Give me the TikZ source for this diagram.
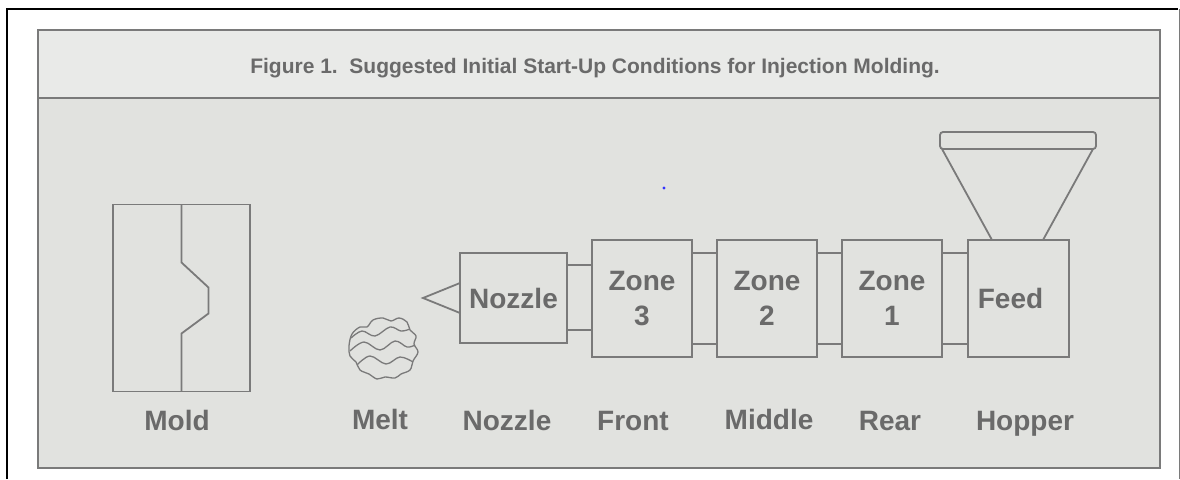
\documentclass[tikz,border=0pt]{standalone}
\usepackage{fontspec}
\setmainfont{Liberation Sans}
\usetikzlibrary{calc}
\definecolor{inkgray}{HTML}{6A6A6A}
\definecolor{edgegray}{HTML}{7A7A7A}
\definecolor{bandfill}{HTML}{E9EAE8}
\definecolor{bodyfill}{HTML}{E1E2DF}
\begin{document}
\begin{tikzpicture}[x=1pt,y=-1pt,
  edge/.style={draw=edgegray,line width=1.8pt},
  unitbox/.style={edge,rectangle,outer sep=0pt,inner sep=0pt,
    minimum width=100pt,minimum height=117pt,align=center,
    text=inkgray,font=\fontsize{28}{35}\selectfont\bfseries},
  caption/.style={anchor=base,text=inkgray,inner sep=0pt,
    font=\fontsize{28}{30}\selectfont\bfseries},
  link/.style={edge,line width=1.6pt},
  blob/.style={draw=edgegray,line width=1.3pt,line join=round}]
\useasboundingbox (0,0) rectangle (1180,479);
\fill[white] (0,0) rectangle (1180,479);

% page frame
\draw[black,line width=2.6pt] (7,479) -- (7,9) -- (1178,9);
\draw[edgegray,line width=1pt] (1179,9) -- (1179,479);

% panel with title band
\filldraw[edge,fill=bodyfill] (38,98) rectangle (1160,468);
\filldraw[edge,fill=bandfill] (38,30) rectangle (1160,98);
\node[anchor=base,text=inkgray,inner sep=0pt,font=\fontsize{21}{24}\selectfont\bfseries] (title) at (595,73)
  {Figure 1.\ \ Suggested Initial Start-Up Conditions for Injection Molding.};

% mold with parting line
\node[edge,rectangle,outer sep=0pt,minimum width=137pt,minimum height=187pt] (mold) at (181.5,298) {};
\draw[edge] (mold.north) -- ++(0,58) -- ++(27,25) -- ++(0,26) -- ++(-27,20) -- (mold.south);

% melt: lumpy pellet with folds
\draw[blob] plot[smooth cycle,tension=0.6] coordinates {(349,346) (352,334) (360,327) (367,327) (373,320) (383,318) (391,321) (399,318) (407,322) (410,330) (416,336) (414,344) (418,352) (413,361) (410,370) (401,374) (395,378) (385,377) (377,379) (369,374) (360,370) (356,362) (350,356)};
\draw[blob] plot[smooth,tension=0.6] coordinates {(351,338) (362,331) (375,336) (390,327) (401,331) (410,329)};
\draw[blob] plot[smooth,tension=0.6] coordinates {(350,351) (364,342) (380,350) (395,341) (407,347) (415,345)};
\draw[blob] plot[smooth,tension=0.6] coordinates {(357,365) (370,356) (386,364) (400,357) (413,362)};

% barrel
\node[unitbox,minimum width=107pt,minimum height=90pt] (nz) at (513.5,298) {Nozzle};
\node[unitbox] (z3) at (642,298.5) {Zone\\3};
\node[unitbox] (z2) at (767,298.5) {Zone\\2};
\node[unitbox] (z1) at (892,298.5) {Zone\\1};
\node[unitbox,minimum width=101pt] (feed) at (1018.5,298.5) {\raisebox{-5pt}{Feed}\hspace{16pt}};

% nozzle tip
\coordinate (tip) at (423,298);
\draw[edge,line join=miter] ($(nz.west)+(0,-15)$) -- (tip) -- ($(nz.west)+(0,15)$);

% couplings between sections
\draw[link] ($(nz.north east)+(0,12)$) -- ($(z3.north west)+(0,25)$);
\draw[link] ($(nz.south east)+(0,-13)$) -- ($(z3.south west)+(0,-27)$);
\foreach \a/\b in {z3/z2,z2/z1,z1/feed}{
  \draw[link] ($(\a.north east)+(0,13)$) -- ($(\b.north west)+(0,13)$);
  \draw[link] ($(\a.south east)+(0,-13)$) -- ($(\b.south west)+(0,-13)$);
}

% hopper
\node[edge,rectangle,rounded corners=3pt,outer sep=0pt,minimum width=156pt,minimum height=17pt] (rim) at (1018,140.5) {};
\draw[edge] ($(rim.south west)+(2,0)$) -- ($(feed.north west)+(24,0)$);
\draw[edge] ($(rim.south east)+(-3,0)$) -- ($(feed.north west)+(75,0)$);

% captions
\node[caption] (cmold) at (177,430) {Mold};
\node[caption] (cmelt) at (380,429) {Melt};
\node[caption] (cnozzle) at (507,430) {Nozzle};
\node[caption] (cfront) at (633,430) {Front};
\node[caption] (cmiddle) at (769,429) {Middle};
\node[caption] (crear) at (890,430) {Rear};
\node[caption] (chopper) at (1025,430) {Hopper};

% stray blue speck
\fill[blue!80] (664,188) circle (1.6);
\end{tikzpicture}
\end{document}
